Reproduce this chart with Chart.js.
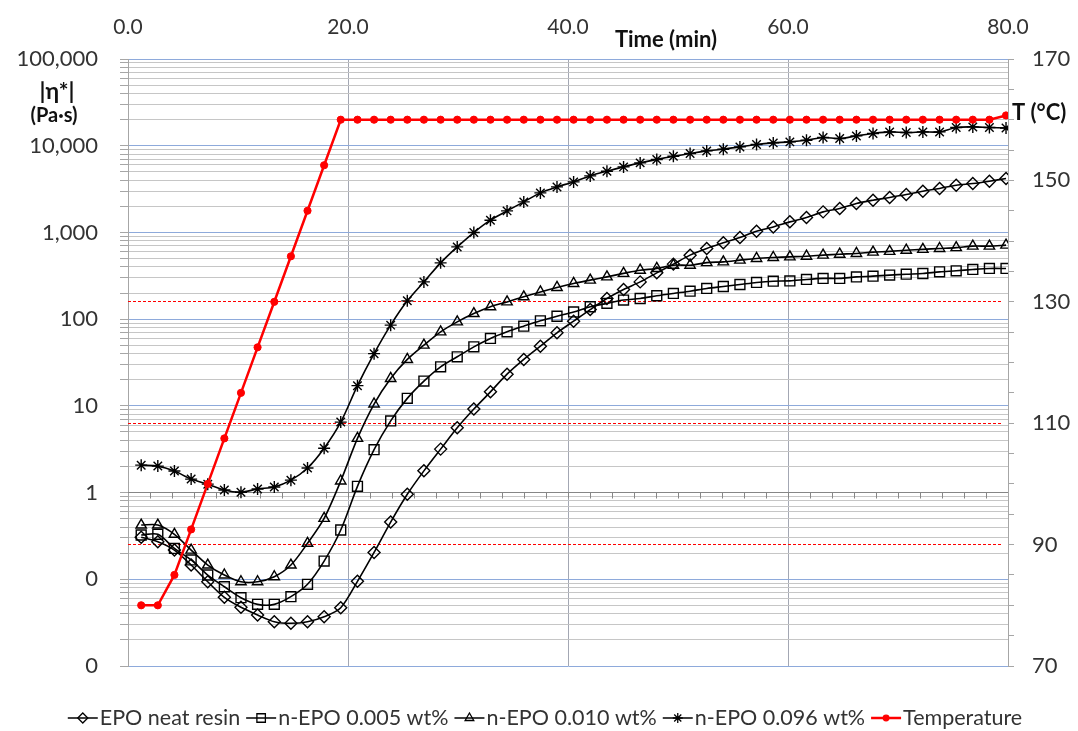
<!DOCTYPE html>
<html lang="en">
<head>
<meta charset="UTF-8">
<title>Complex viscosity and temperature vs time</title>
<script src="https://cdn.jsdelivr.net/npm/chart.js"></script>
<style>
  body { margin: 0; background: #fff; }
  canvas { display: block; }
</style>
</head>
<body>
<canvas id="chart" width="1078" height="731"></canvas>
<script>
// time (min) of each measurement
const times = [1.2, 2.71, 4.22, 5.74, 7.25, 8.76, 10.27, 11.78, 13.3, 14.81, 16.32, 17.83, 19.34,
  20.86, 22.37, 23.88, 25.39, 26.9, 28.42, 29.93, 31.44, 32.95, 34.46, 35.98, 37.49, 39.0, 40.51,
  42.02, 43.54, 45.05, 46.56, 48.07, 49.58, 51.1, 52.61, 54.12, 55.63, 57.14, 58.66, 60.17, 61.68,
  63.19, 64.7, 66.22, 67.73, 69.24, 70.75, 72.26, 73.78, 75.29, 76.8, 78.31, 79.82];

// |eta*| (Pa.s)
const epoNeat = [0.305, 0.271, 0.217, 0.146, 0.0937, 0.0619, 0.0475, 0.0387, 0.0324, 0.0311, 0.0324, 0.037, 0.047,
  0.0947, 0.204, 0.457, 0.956, 1.78, 3.17, 5.58, 9.18, 14.5, 23.2, 34.3, 48.8, 69.5, 94.8,
  129, 173, 220, 269, 342, 431, 547, 653, 758, 875, 1034, 1158, 1324, 1487,
  1726, 1889, 2157, 2355, 2530, 2736, 2990, 3213, 3507, 3666, 3900, 4188];
const nEpo005 = [0.324, 0.33, 0.227, 0.167, 0.112, 0.082, 0.0613, 0.0514, 0.0514, 0.063, 0.0875, 0.162, 0.37,
  1.18, 3.12, 6.71, 12.2, 19.3, 28.2, 36.8, 47.9, 59.9, 71.4, 83.0, 95.6, 108, 121,
  139, 152, 166, 173, 186, 198, 210, 226, 238, 251, 265, 274, 276, 287,
  295, 295, 307, 313, 322, 330, 336, 351, 361, 374, 384, 384];
const nEpo010 = [0.422, 0.422, 0.33, 0.217, 0.146, 0.112, 0.0937, 0.0937, 0.107, 0.146, 0.26, 0.504, 1.36,
  4.22, 10.5, 20.7, 34.3, 50.1, 71.4, 93.1, 116, 139, 158, 181, 206, 232, 258,
  282, 307, 337, 367, 384, 419, 419, 448, 458, 479, 501, 514, 523, 532,
  547, 561, 572, 592, 605, 624, 638, 653, 668, 695, 695, 713];
const nEpo096 = [2.07, 2.02, 1.77, 1.43, 1.25, 1.07, 1.01, 1.1, 1.16, 1.39, 1.92, 3.25, 6.5,
  17.1, 40, 85.3, 162.5, 269, 446, 681, 998, 1384, 1772, 2250, 2857, 3350, 3827,
  4487, 5085, 5700, 6340, 6935, 7570, 8130, 8710, 9120, 9690, 10330, 10780, 11070, 11570,
  12420, 12100, 12970, 13830, 14430, 14200, 14430, 14430, 16220, 16480, 16220, 16030];

// temperature (°C)
const temperature = [80, 80, 85, 92.5, 100, 107.5, 115, 122.5, 130, 137.5, 145, 152.5, 160,
  160, 160, 160, 160, 160, 160, 160, 160, 160, 160, 160, 160, 160, 160,
  160, 160, 160, 160, 160, 160, 160, 160, 160, 160, 160, 160, 160, 160,
  160, 160, 160, 160, 160, 160, 160, 160, 160, 160, 160, 160.7];

const seriesNames = ['EPO neat resin', 'n-EPO 0.005 wt%', 'n-EPO 0.010 wt%', 'n-EPO 0.096 wt%', 'Temperature'];
const tempGridLines = [90, 110, 130];

const FONT = 'Lato, "Liberation Sans", "DejaVu Sans", sans-serif';
const TEXT = '#333';

const pts = arr => times.map((t, i) => ({ x: t, y: arr[i] }));

// log axis ticks: 1..9 per decade from 0.01 to 100,000
const logTicks = [];
for (let e = -2; e <= 5; e++) {
  for (let m = 1; m <= 9; m++) {
    const v = Number((m * Math.pow(10, e)).toPrecision(2));
    if (v <= 100000) logTicks.push(v);
  }
}
const isDecade = v => Math.abs(Math.log10(v) - Math.round(Math.log10(v))) < 1e-9;

function hollow(style, r) {
  return {
    pointStyle: style, pointRadius: r, pointHoverRadius: r, pointBorderWidth: 1.4,
    pointBackgroundColor: 'rgba(0,0,0,0)', pointBorderColor: '#000',
    borderColor: '#000', borderWidth: 1.6, tension: 0.3, yAxisID: 'y'
  };
}

const datasets = [
  { label: seriesNames[0], data: pts(epoNeat), ...hollow('rectRot', 6) },
  { label: seriesNames[1], data: pts(nEpo005), ...hollow('rect', 7) },
  { label: seriesNames[2], data: pts(nEpo010), ...hollow('triangle', 6) },
  { label: seriesNames[3], data: pts(nEpo096), ...hollow('star', 6) },
  {
    label: seriesNames[4], data: pts(temperature), yAxisID: 'y2', order: -1,
    borderColor: '#ff0000', backgroundColor: '#ff0000', borderWidth: 2.5, tension: 0,
    pointStyle: 'circle', pointRadius: 3.6, pointHoverRadius: 3.6,
    pointBackgroundColor: '#ff0000', pointBorderColor: '#ff0000', pointBorderWidth: 1
  }
];

const crisp = p => Math.round(p - 0.5) + 0.5;

// red dashed temperature gridlines, and the horizontal axis crossing at |eta*| = 1
const extraGrid = {
  id: 'extraGrid',
  beforeDatasetsDraw(chart) {
    const { ctx, chartArea, scales } = chart;
    ctx.save();
    ctx.lineWidth = 1;
    ctx.strokeStyle = '#ff0000';
    ctx.setLineDash([3, 2]);
    ctx.beginPath();
    tempGridLines.forEach(v => {
      const y = crisp(scales.y2.getPixelForValue(v));
      ctx.moveTo(chartArea.left, y);
      ctx.lineTo(chartArea.right - 6, y);
    });
    ctx.stroke();
    ctx.setLineDash([]);

    const y = crisp(scales.y.getPixelForValue(1));
    ctx.strokeStyle = '#868686';
    ctx.beginPath();
    ctx.moveTo(chartArea.left, y);
    ctx.lineTo(chartArea.right, y);
    for (let t = 2; t < 80; t += 2) {
      const x = crisp(scales.x.getPixelForValue(t));
      ctx.moveTo(x, y);
      ctx.lineTo(x, y + 6);
    }
    ctx.stroke();
    ctx.restore();
  }
};

// axis titles and legend drawn on the canvas
const annotations = {
  id: 'annotations',
  afterDraw(chart) {
    const { ctx } = chart;
    ctx.save();
    ctx.fillStyle = '#111';
    ctx.textBaseline = 'middle';
    ctx.textAlign = 'center';
    ctx.font = `bold 23px ${FONT}`;
    ctx.fillText('|η*|', 57, 92);
    ctx.font = `bold 20px ${FONT}`;
    ctx.fillText('(Pa·s)', 54, 116);
    ctx.font = `bold 22px ${FONT}`;
    ctx.fillText('Time (min)', 666, 40);
    ctx.textAlign = 'left';
    ctx.fillText('T (°C)', 1012, 113);

    // legend
    ctx.font = `21.5px ${FONT}`;
    const sym = 30, gapA = 2, gapB = 6;
    const widths = chart.data.datasets.map(d => ctx.measureText(d.label).width);
    const total = widths.reduce((a, w) => a + sym + gapA + w, 0) + gapB * (widths.length - 1);
    let x = 545 - total / 2;
    const y = 718;
    chart.data.datasets.forEach((d, i) => {
      ctx.strokeStyle = d.borderColor;
      ctx.lineWidth = d.borderWidth > 2 ? 2.5 : 1.5;
      ctx.beginPath();
      ctx.moveTo(x, y);
      ctx.lineTo(x + sym, y);
      ctx.stroke();
      ctx.fillStyle = d.pointBackgroundColor;
      ctx.strokeStyle = d.pointBorderColor;
      ctx.lineWidth = 1.3;
      Chart.helpers.drawPoint(ctx, {
        pointStyle: d.pointStyle,
        radius: d.pointStyle === 'circle' ? 2.8 : (d.pointStyle === 'rect' ? 6 : 5),
        rotation: 0, borderWidth: 1.3
      }, x + sym / 2, y);
      ctx.fillStyle = TEXT;
      ctx.textAlign = 'left';
      ctx.fillText(d.label, x + sym + gapA, y);
      x += sym + gapA + widths[i] + gapB;
    });
    ctx.restore();
  }
};

new Chart(document.getElementById('chart'), {
  type: 'line',
  data: { datasets },
  plugins: [extraGrid, annotations],
  options: {
    responsive: false,
    animation: false,
    layout: { padding: { left: 0, right: 0, top: 0, bottom: 65 } },
    plugins: { legend: { display: false }, tooltip: { enabled: false } },
    scales: {
      x: {
        type: 'linear', position: 'top', min: 0, max: 80,
        ticks: {
          stepSize: 20, maxRotation: 0, padding: 19, color: TEXT,
          font: { family: FONT, size: 21 },
          callback: v => v.toFixed(1)
        },
        grid: { color: '#a3a7b3', drawTicks: false },
        border: { display: false },
        afterFit: s => { s.height = 59; }
      },
      y: {
        type: 'logarithmic', position: 'left', min: 0.01, max: 100000,
        afterBuildTicks: s => { s.ticks = logTicks.map(v => ({ value: v, major: isDecade(v) })); },
        ticks: {
          autoSkip: false, padding: 22, color: TEXT,
          font: { family: FONT, size: 22 },
          callback: v => isDecade(v) ? (v >= 1 ? v.toLocaleString('en-US') : '0') : ''
        },
        grid: {
          color: c => {
            if (!c.tick) return '#c6c6c6';
            if (c.tick.value === 1) return 'rgba(0,0,0,0)';
            return isDecade(c.tick.value) ? '#8eaadb' : '#c6c6c6';
          },
          tickColor: '#a6a6a6', tickLength: 8
        },
        border: { color: '#a6a6a6' },
        afterFit: s => { s.width = 128; }
      },
      y2: {
        type: 'linear', position: 'right', min: 70, max: 170,
        ticks: {
          stepSize: 5, autoSkip: false, padding: 18, color: TEXT,
          font: { family: FONT, size: 22 },
          callback: v => ((v - 70) % 20 === 0 ? v : '')
        },
        grid: { drawOnChartArea: false, tickColor: '#a6a6a6', tickLength: 6 },
        border: { color: '#a6a6a6' },
        afterFit: s => { s.width = 70; }
      }
    }
  }
});
</script>
</body>
</html>
